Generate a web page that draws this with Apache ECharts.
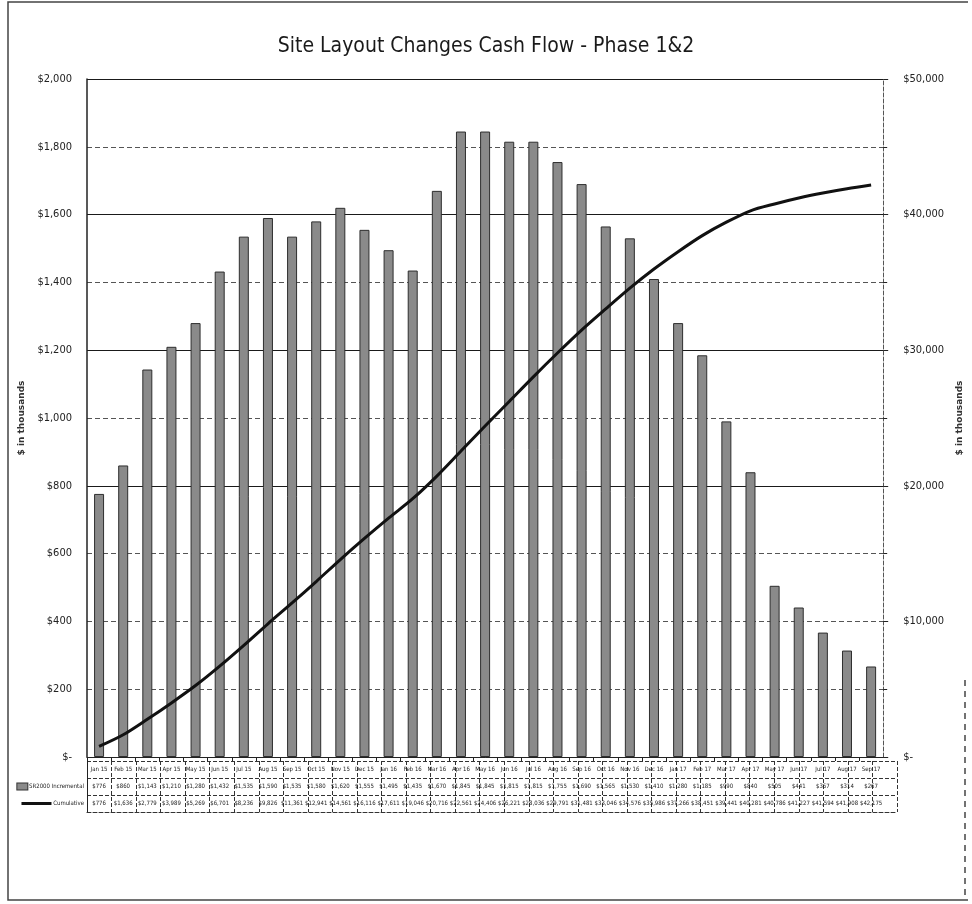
<!DOCTYPE html>
<html>
<head>
<meta charset="utf-8">
<title>Site Layout Changes Cash Flow - Phase 1&amp;2</title>
<script src="https://cdn.jsdelivr.net/npm/echarts@6/dist/echarts.min.js"></script>
<style>
  html, body { margin: 0; padding: 0; background: #fff; }
  #chart { width: 972px; height: 904px; }
</style>
</head>
<body>
<div id="chart"></div>
<script>
// Monthly periods
const months = [
  'Jan 15','Feb 15','Mar 15','Apr 15','May 15','Jun 15','Jul 15','Aug 15','Sep 15','Oct 15','Nov 15','Dec 15',
  'Jan 16','Feb 16','Mar 16','Apr 16','May 16','Jun 16','Jul 16','Aug 16','Sep 16','Oct 16','Nov 16','Dec 16',
  'Jan 17','Feb 17','Mar 17','Apr 17','May 17','Jun 17','Jul 17','Aug 17','Sep 17'
];

// Monthly spend, $ in thousands (left axis)
const incremental = [
  776, 860, 1143, 1210, 1280, 1432, 1535, 1590, 1535, 1580, 1620, 1555,
  1495, 1435, 1670, 1845, 1845, 1815, 1815, 1755, 1690, 1565, 1530, 1410,
  1280, 1185, 990, 840, 505, 441, 367, 314, 267
];

// Running total, $ in thousands (right axis)
const cumulative = [
  776, 1636, 2779, 3989, 5269, 6701, 8236, 9826, 11361, 12941, 14561, 16116,
  17611, 19046, 20716, 22561, 24406, 26221, 28036, 29791, 31481, 33046, 34576, 35986,
  37266, 38451, 39441, 40281, 40786, 41227, 41594, 41908, 42175
];

// Table row headings
const rowHeads = ['', 'SR2000 Incremental', 'Cumulative'];

const FONT = "'Liberation Sans Narrow', 'DejaVu Sans Condensed', 'Liberation Sans', sans-serif";
const money = v => v === 0 ? '$-' : '$' + v.toLocaleString('en-US');

const chart = echarts.init(document.getElementById('chart'), null, { renderer: 'canvas' });

chart.setOption({
  backgroundColor: '#ffffff',
  animation: false,
  textStyle: { fontFamily: FONT },
  title: {
    text: 'Site Layout Changes Cash Flow - Phase 1&2',
    left: 'center',
    top: 31,
    textStyle: { fontFamily: FONT, fontSize: 21, fontWeight: 'normal', color: '#1a1a1a' }
  },
  grid: [
    { left: 87, right: 75, top: 79, bottom: 147, containLabel: false },
    { left: 87, right: 75, top: 761, height: 51, containLabel: false }
  ],
  xAxis: [
    {
      type: 'category',
      gridIndex: 0,
      data: months,
      boundaryGap: true,
      axisLine: { show: true, lineStyle: { color: '#222', width: 1 } },
      axisTick: { show: true, length: 4, lineStyle: { color: '#222' } },
      axisLabel: {
        interval: 0,
        margin: 4,
        color: '#222',
        fontFamily: FONT,
        formatter: (value, idx) =>
          '{m|' + value + '}\n{a|' + money(incremental[idx]) + '}\n{b|' + money(cumulative[idx]) + '}',
        rich: {
          m: { fontSize: 6, lineHeight: 17, fontFamily: FONT, color: '#222' },
          a: { fontSize: 6, lineHeight: 17, fontFamily: FONT, color: '#222' },
          b: { fontSize: 6, lineHeight: 17, fontFamily: FONT, color: '#222' }
        }
      },
      splitLine: { show: false }
    },
    {
      type: 'category',
      gridIndex: 1,
      data: months,
      boundaryGap: true,
      axisLine: { show: true, lineStyle: { color: '#333', width: 1, type: 'dashed' } },
      axisTick: { show: false },
      axisLabel: { show: false },
      splitLine: { show: true, interval: 0, lineStyle: { color: '#333', width: 1, type: 'dashed' } }
    }
  ],
  yAxis: [
    {
      type: 'value',
      gridIndex: 0,
      min: 0,
      max: 2000,
      interval: 200,
      position: 'left',
      name: '$ in thousands',
      nameLocation: 'middle',
      nameRotate: 90,
      nameGap: 52,
      nameTextStyle: { fontFamily: "'DejaVu Sans', sans-serif", fontSize: 9, fontWeight: 'bold', color: '#333' },
      axisLine: { show: true, lineStyle: { color: '#222', width: 1.5 } },
      axisTick: { show: false },
      axisLabel: { margin: 15, fontSize: 11, color: '#222', fontFamily: FONT, formatter: money },
      splitLine: { show: true, lineStyle: { color: '#555', width: 1, type: [5, 3] } }
    },
    {
      type: 'value',
      gridIndex: 0,
      min: 0,
      max: 50000,
      interval: 10000,
      position: 'right',
      name: '$ in thousands',
      nameLocation: 'middle',
      nameRotate: 90,
      nameGap: 62,
      nameTextStyle: { fontFamily: "'DejaVu Sans', sans-serif", fontSize: 9, fontWeight: 'bold', color: '#333' },
      axisLine: { show: true, lineStyle: { color: '#555', width: 1, type: 'dashed' } },
      axisTick: { show: true, length: 5, lineStyle: { color: '#222' } },
      minorTick: { show: true, splitNumber: 2, length: 4, lineStyle: { color: '#222' } },
      axisLabel: { margin: 20, fontSize: 11, color: '#222', fontFamily: FONT, formatter: money },
      splitLine: {
        show: true,
        lineStyle: {
          color: ['rgba(0,0,0,0)', 'rgba(0,0,0,0)', '#1a1a1a', '#1a1a1a', '#1a1a1a', '#1a1a1a'],
          width: 1.2
        }
      }
    },
    {
      type: 'category',
      gridIndex: 1,
      data: rowHeads,
      inverse: true,
      boundaryGap: true,
      axisLine: { show: true, lineStyle: { color: '#222', width: 1 } },
      axisTick: { show: false },
      axisLabel: {
        margin: 3,
        fontFamily: FONT,
        fontSize: 6,
        color: '#222',
        formatter: (value, idx) => {
          if (idx === 1) return '{bx|}{t| ' + value + '}';
          if (idx === 2) return '{ln|}{t| ' + value + '}';
          return '';
        },
        rich: {
          bx: { width: 10, height: 6, backgroundColor: '#8a8a8a', borderColor: '#333', borderWidth: 1 },
          ln: { width: 30, height: 3, backgroundColor: '#111' },
          t: { fontSize: 6, fontFamily: FONT, color: '#222' }
        }
      },
      splitLine: { show: true, interval: 0, lineStyle: { color: '#333', width: 1, type: 'dashed' } }
    }
  ],
  series: [
    {
      name: 'SR2000 Incremental',
      type: 'bar',
      xAxisIndex: 0,
      yAxisIndex: 0,
      data: incremental,
      barWidth: 10,
      itemStyle: { color: '#8a8a8a', borderColor: '#2e2e2e', borderWidth: 1 }
    },
    {
      name: 'Cumulative',
      type: 'line',
      xAxisIndex: 0,
      yAxisIndex: 1,
      data: cumulative,
      smooth: 0.3,
      symbol: 'none',
      lineStyle: { color: '#111', width: 3 },
      z: 5
    }
  ],
  graphic: [
    {
      type: 'polyline',
      silent: true,
      shape: { points: [[968, 2], [8, 2], [8, 900], [968, 900]] },
      style: { stroke: '#444', lineWidth: 1.5, fill: null }
    },
    {
      type: 'line',
      silent: true,
      shape: { x1: 965, y1: 680, x2: 965, y2: 900 },
      style: { stroke: '#444', lineWidth: 1.5, lineDash: [6, 5] }
    }
  ]
});
</script>
</body>
</html>
